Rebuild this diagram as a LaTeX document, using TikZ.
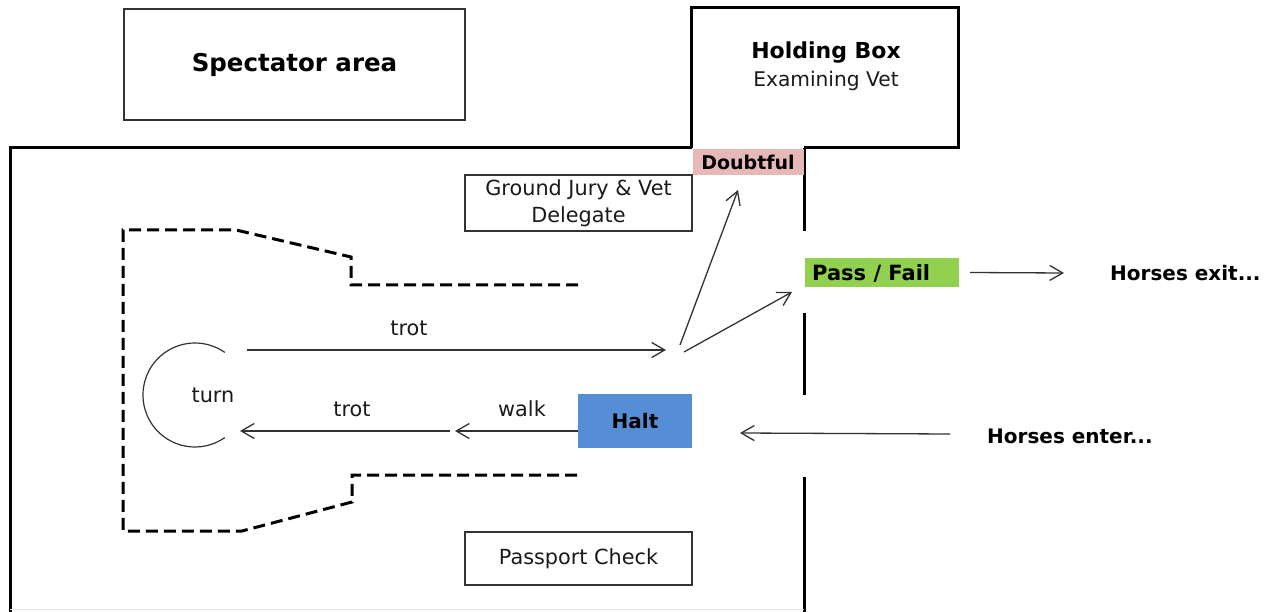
\documentclass[tikz,border=0pt]{standalone}
\usepackage{fontspec}
\setmainfont{DejaVu Sans}
\usetikzlibrary{arrows.meta}
\definecolor{doubtpink}{RGB}{230,184,183}
\definecolor{passgreen}{RGB}{146,208,80}
\definecolor{haltblue}{RGB}{85,142,213}
\definecolor{arrowgray}{RGB}{50,50,50}
\tikzset{
  wall/.style={line width=3pt, black},
  plainbox/.style={draw=black!80, line width=1.5pt, inner sep=0pt},
  fillbox/.style={inner sep=0pt},
  course/.style={line width=3pt, black, dash pattern=on 12pt off 6pt},
  flow/.style={line width=1.3pt, arrowgray, -{Straight Barb[length=13pt,width=15pt,line width=1.3pt]}},
  regtext/.style={font=\fontsize{20.8}{27}\selectfont, text=black!90},
  boldtext/.style={font=\fontsize{20}{24}\selectfont\bfseries, text=black},
}
\begin{document}
\begin{tikzpicture}[x=1pt,y=-1pt]
\useasboundingbox (0,0) rectangle (1275,612);
% spectator area
\node[plainbox, minimum width=341pt, minimum height=111pt, font=\fontsize{24.5}{28}\selectfont\bfseries] (spect) at (294.5,64.5) {Spectator area};
% holding box
\draw[wall] (691,148) -- (691,8) -- (958,8) -- (958,148) -- (804,148);
\node[font=\fontsize{22}{26}\selectfont\bfseries] (hold) at (826,53) {Holding Box};
\node[regtext, font=\fontsize{20.2}{26}\selectfont] (vet) at (826,81) {Examining Vet};
% main area walls
\draw[wall] (10,612) -- (10,148) -- (692,148);
\draw[wall] (804,148) -- (804,231);
\draw[wall] (804,313) -- (804,395);
\draw[wall] (804,477) -- (804,612);
\draw[black!12, line width=1pt] (10,609) -- (804,609);
% doubtful
\node[fillbox, fill=doubtpink, minimum width=111pt, minimum height=26pt, font=\fontsize{19}{22}\selectfont\bfseries] (doubt) at (748,162.5) {Doubtful};
% ground jury
\node[plainbox, minimum width=227pt, minimum height=56pt, regtext, align=center] (jury) at (578.5,203) {Ground Jury \& Vet\\Delegate};
% passport check
\node[plainbox, minimum width=227pt, minimum height=53pt, regtext] (passport) at (578.5,558.5) {Passport Check};
% halt
\node[fillbox, fill=haltblue, minimum width=114pt, minimum height=54pt, boldtext] (halt) at (635,421) {Halt};
% pass / fail
\node[fillbox, fill=passgreen, minimum width=154pt, minimum height=29pt] (pf) at (882,272.5) {};
\node[boldtext, anchor=west, inner sep=0pt, font=\fontsize{21}{24}\selectfont\bfseries] (pftext) at (812,273) {Pass / Fail};
% exit / enter labels
\node[boldtext, anchor=west, inner sep=0pt] (exit) at (1110,273) {Horses exit...};
\node[boldtext, anchor=west, inner sep=0pt] (enter) at (987,436) {Horses enter...};
% dashed course
\draw[course] (578,285) -- (351,285) -- (351,257) -- (236,230) -- (123,230) -- (123,531) -- (242,531) -- (352,502) -- (352,475) -- (578,475);
% turn
\draw[arrowgray, line width=1.2pt] (224.8,437.6) arc[start angle=55, end angle=305, radius=52];
\node[regtext] (turn) at (213,395) {turn};
% coordinates for the flow
\coordinate (tA) at (247,350);
\coordinate (tB) at (666,350);
\coordinate (fA) at (680,345);
\coordinate (fB) at (684,352);
\coordinate (dTip) at (738,190);
\coordinate (pTip) at (792,292);
\coordinate (wEnd) at (455,431);
\coordinate (lA) at (450,431);
\coordinate (lB) at (240,431);
\coordinate (eA) at (950,434);
\coordinate (eB) at (740,433);
\coordinate (xB) at (1064,273);
\draw[flow] (tA) -- (tB);
\node[regtext] (trot1) at (409,328) {trot};
\draw[flow] (fA) -- (dTip);
\draw[flow] (fB) -- (pTip);
\draw[flow] (halt.west |- wEnd) -- (wEnd);
\node[regtext] (walk) at (522,409) {walk};
\draw[flow] (lA) -- (lB);
\node[regtext] (trot2) at (352,409) {trot};
\draw[flow] (eA) -- (eB);
\draw[flow] ([xshift=11pt]pf.east) -- (xB);
\end{tikzpicture}
\end{document}
